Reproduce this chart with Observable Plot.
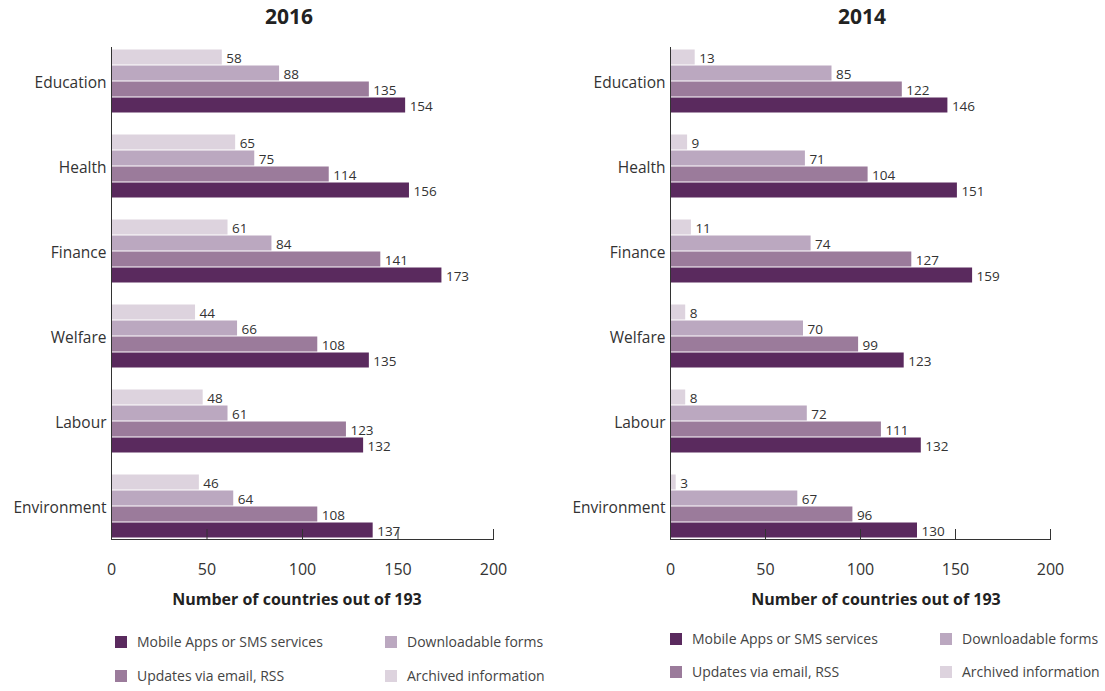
<!DOCTYPE html>
<html>
<head>
<meta charset="utf-8">
<script src="https://cdn.jsdelivr.net/npm/d3@7"></script>
<script src="https://cdn.jsdelivr.net/npm/@observablehq/plot@0.6"></script>
<style>
  body { margin: 0; background: #fff; font-family: "Open Sans", sans-serif; }
  #wrap { position: relative; width: 1105px; height: 691px; overflow: hidden; }
  .title { position: absolute; top: 2px; font-size: 21px; font-weight: bold; color: #222; transform: translateX(-50%); }
  .xlabel { position: absolute; font-size: 16px; font-weight: bold; color: #222; transform: translateX(-50%); white-space: nowrap; }
  .panel { position: absolute; top: 36px; }
  .panel svg { overflow: visible; }
  .leg { position: absolute; display: flex; align-items: center; font-size: 14px; color: #444; white-space: nowrap; }
  .leg span.sw { display: inline-block; width: 12px; height: 12px; margin-right: 10px; }
</style>
</head>
<body>
<div id="wrap"></div>
<script>
const categories = ["Education", "Health", "Finance", "Welfare", "Labour", "Environment"];
const series = ["Archived information", "Downloadable forms", "Updates via email, RSS", "Mobile Apps or SMS services"];
const colors = ["#ddd3de", "#bba8c0", "#9b7b9b", "#5a2a5e"];
const xTicks = [0, 50, 100, 150, 200];
const axisLabel = "Number of countries out of 193";

// values per category, ordered as `series`
const archived2016     = [58, 65, 61, 44, 48, 46];
const downloadable2016 = [88, 75, 84, 66, 61, 64];
const updates2016      = [135, 114, 141, 108, 123, 108];
const mobile2016       = [154, 156, 173, 135, 132, 137];

const archived2014     = [13, 9, 11, 8, 8, 3];
const downloadable2014 = [85, 71, 74, 70, 72, 67];
const updates2014      = [122, 104, 127, 99, 111, 96];
const mobile2014       = [146, 151, 159, 123, 132, 130];

function table(lists) {
  const rows = [];
  categories.forEach((c, i) => {
    series.forEach((s, j) => rows.push({category: c, series: s, value: lists[j][i]}));
  });
  return rows;
}

const data2016 = table([archived2016, downloadable2016, updates2016, mobile2016]);
const data2014 = table([archived2014, downloadable2014, updates2014, mobile2014]);

function chart(data, width, marginLeft, marginRight) {
  return Plot.plot({
    width, height: 580,
    marginLeft, marginRight, marginTop: 2, marginBottom: 77,
    style: {fontFamily: "'Open Sans', sans-serif", color: "#333", background: "transparent"},
    x: {domain: [0, 200], ticks: xTicks, label: null},
    fy: {domain: categories, paddingInner: 0.216, paddingOuter: 0.05, align: 1, label: null},
    y: {domain: series, padding: 0, axis: null},
    color: {domain: series, range: colors},
    marks: [
      Plot.barX(data, {fy: "category", y: "series", x: "value", fill: "series", insetTop: 0.5, insetBottom: 0.5}),
      Plot.text(data, {fy: "category", y: "series", x: "value", text: d => String(d.value), dx: 4, dy: 1, textAnchor: "start", fontSize: 13.5, fill: "#333"}),
      Plot.axisFy({anchor: "left", tickSize: 0, tickPadding: 5, fontSize: 15.5, dy: 2, label: null, fill: "#333"}),
      Plot.axisX({anchor: "bottom", ticks: xTicks, tickSize: -10, tickPadding: 34, fontSize: 16, label: null, fill: "#333"}),
      Plot.frame({anchor: "left", facet: "super"}),
      Plot.frame({anchor: "bottom", facet: "super"})
    ]
  });
}

const wrap = document.getElementById("wrap");

function addText(cls, text, x, y) {
  const t = document.createElement("div");
  t.className = cls; t.textContent = text; t.style.left = x + "px";
  if (y != null) t.style.top = y + "px";
  wrap.appendChild(t);
}
function addPanel(svg, left) {
  const p = document.createElement("div");
  p.className = "panel"; p.style.left = left + "px";
  p.appendChild(svg);
  wrap.appendChild(p);
}
function addLegend(positions) {
  const order = ["Mobile Apps or SMS services", "Downloadable forms", "Updates via email, RSS", "Archived information"];
  order.forEach((s, i) => {
    const [x, y] = positions[i];
    const d = document.createElement("div");
    d.className = "leg"; d.style.left = x + "px"; d.style.top = y + "px";
    const sw = document.createElement("span");
    sw.className = "sw"; sw.style.background = colors[series.indexOf(s)];
    d.appendChild(sw);
    d.appendChild(document.createTextNode(s));
    wrap.appendChild(d);
  });
}

addText("title", "2016", 289);
addText("title", "2014", 862);
addPanel(chart(data2016, 552, 111, 59), 0);
addPanel(chart(data2014, 553, 118, 55), 552);
addText("xlabel", axisLabel, 297, 588);
addText("xlabel", axisLabel, 876, 588);
addLegend([[115, 632], [385, 632], [115, 666], [385, 666]]);
addLegend([[670, 629], [940, 629], [670, 662], [940, 662]]);
</script>
</body>
</html>
